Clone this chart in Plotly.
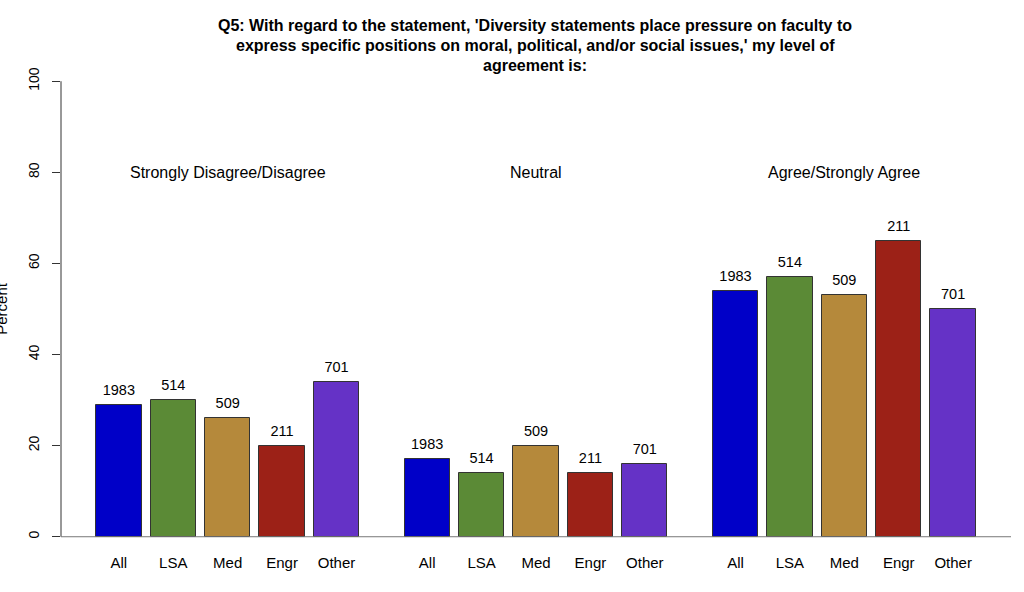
import plotly.graph_objects as go

groups = ["Strongly Disagree/Disagree", "Neutral", "Agree/Strongly Agree"]
schools = ["All", "LSA", "Med", "Engr", "Other"]
counts = ["1983", "514", "509", "211", "701"]
values = {
    "All":   [29, 17, 54],
    "LSA":   [30, 14, 57],
    "Med":   [26, 20, 53],
    "Engr":  [20, 14, 65],
    "Other": [34, 16, 50],
}
colors = {
    "All": "#0000C8",
    "LSA": "#5B8A36",
    "Med": "#B5893B",
    "Engr": "#9C2117",
    "Other": "#6532C6",
}
y_ticks = [0, 20, 40, 60, 80, 100]
title_lines = [
    "Q5: With regard to the statement, 'Diversity statements place pressure on faculty to",
    "express specific positions on moral, political, and/or social issues,' my level of",
    "agreement is:",
]

FONT = "Liberation Sans, Arial, Helvetica, sans-serif"
W, H = 1024, 592
ML, MR, MT, MB = 61, 13, 63, 39.5
PW = W - ML - MR
PH = H - MT - MB

def px_x(px):
    return (px - ML) / PW

def px_y(py):
    return (H - MB - py) / PH

# R barplot geometry: width 1, space between bars 0.2, between groups 1
bar_stride = 1.2
group_stride = 6.8
def center(g, i):
    return 1.5 + g * group_stride + i * bar_stride

fig = go.Figure()
tickvals, ticktext = [], []
for i, s in enumerate(schools):
    xs = [center(g, i) for g in range(len(groups))]
    fig.add_trace(go.Bar(
        x=xs, y=values[s], width=1.0,
        marker=dict(color=colors[s], line=dict(color="#333333", width=1)),
        showlegend=False, hoverinfo="skip",
    ))
    fig.add_trace(go.Scatter(
        x=xs, y=[v + 3 for v in values[s]], mode="text",
        text=[counts[i]] * len(groups), textposition="middle center",
        textfont=dict(family=FONT, size=14.5, color="black"),
        showlegend=False, hoverinfo="skip",
    ))
for g in range(len(groups)):
    for i, s in enumerate(schools):
        tickvals.append(center(g, i))
        ticktext.append(s)

for g, name in enumerate(groups):
    gc = (center(g, 0) + center(g, len(schools) - 1)) / 2
    fig.add_annotation(x=gc, y=80, xref="x", yref="y", text=name, showarrow=False,
                       font=dict(family=FONT, size=16, color="black"))

x0 = 1 - 0.776
x1 = center(2, 4) + 0.5 + 0.776

# axis line (0-100) and baseline
fig.add_shape(type="line", xref="paper", yref="y", x0=0, x1=0, y0=0, y1=100,
              line=dict(color="#333333", width=1))
fig.add_shape(type="line", xref="paper", yref="y", x0=0, x1=1, y0=0, y1=0,
              line=dict(color="#777777", width=1))

title_y = [25, 45.5, 66]
for t, py in zip(title_lines, title_y):
    fig.add_annotation(x=px_x(535), y=px_y(py), xref="paper", yref="paper",
                       text="<b>" + t + "</b>", showarrow=False,
                       xanchor="center", yanchor="middle",
                       font=dict(family=FONT, size=16, color="black"))

fig.add_annotation(x=px_x(2), y=px_y(309), xref="paper", yref="paper", text="Percent",
                   textangle=-90, showarrow=False, xanchor="center", yanchor="middle",
                   font=dict(family=FONT, size=15, color="black"))

fig.update_layout(
    width=W, height=H,
    margin=dict(l=ML, r=MR, t=MT, b=MB, pad=0),
    plot_bgcolor="white", paper_bgcolor="white",
    barmode="overlay", bargap=0,
    font=dict(family=FONT, size=13, color="black"),
    xaxis=dict(range=[x0, x1], tickvals=tickvals, ticktext=ticktext, showgrid=False,
               zeroline=False, showline=False, ticks="", tickfont=dict(size=15),
               ticklabelstandoff=0),
    yaxis=dict(range=[-3.35, 104], tickvals=y_ticks, showgrid=False, zeroline=False,
               showline=False, ticks="outside", ticklen=8, tickcolor="#333333",
               tickangle=-90, tickfont=dict(size=14), ticklabelstandoff=7),
)

fig.write_html("out.html", config={"displayModeBar": False},
               post_script="document.body.style.margin='0';document.body.style.overflow='hidden';")
